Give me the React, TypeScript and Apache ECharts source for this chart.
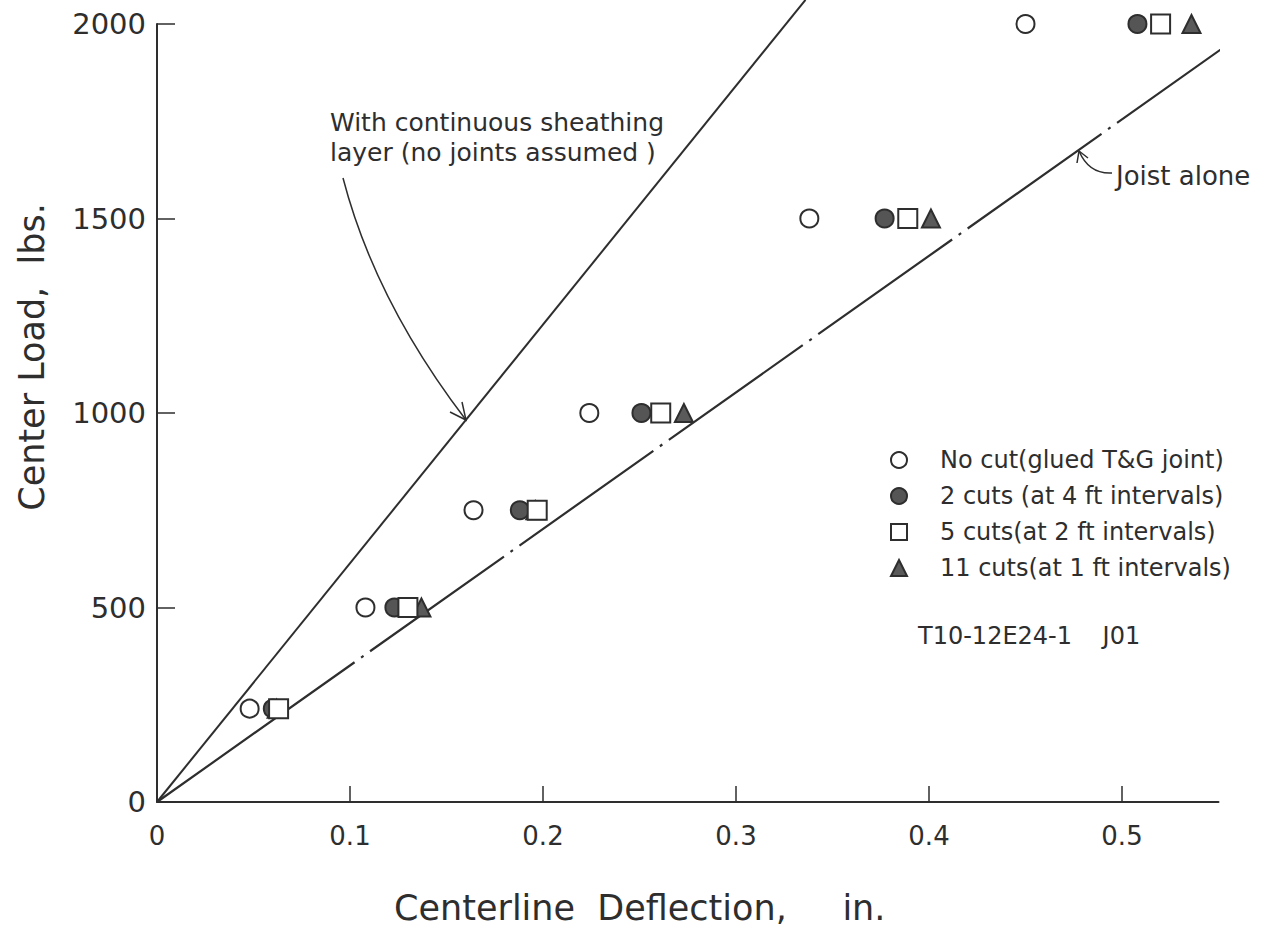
import React, { useEffect, useRef } from 'react';
import * as echarts from 'echarts';

// Center load (lbs) at which each set of deflections was read
const loads = [240, 500, 750, 1000, 1500, 2000];
// Centerline deflection (in.) for each test condition
const noCut = [0.048, 0.108, 0.164, 0.224, 0.338, 0.45];
const cuts2 = [0.06, 0.123, 0.188, 0.251, 0.377, 0.508];
const cuts5 = [0.063, 0.13, 0.197, 0.261, 0.389, 0.52];
const cuts11 = [0.062, 0.137, 0.196, 0.273, 0.401, 0.536];

// Theoretical lines
const sheathX = [0, 0.336];
const sheathY = [0, 2062];
const joistX = [0, 0.553];
const joistY = [0, 1941];

const xLabelTicks = [0, 0.1, 0.2, 0.3, 0.4, 0.5];
const xMarkTicks = [0.1, 0.2, 0.3, 0.4, 0.5];

const seriesNames = [
  'No cut(glued T&G joint)',
  '2 cuts (at 4 ft intervals)',
  '5 cuts(at 2 ft intervals)',
  '11 cuts(at 1 ft intervals)',
];
const legendIcons = ['circle', 'circle', 'rect', 'triangle'];

const INK = '#2e2e2e';
const FONT = 'DejaVu Sans';

export default function App() {
  const ref = useRef<HTMLDivElement>(null);

  useEffect(() => {
    if (!ref.current) return;
    const chart = echarts.init(ref.current, null, { renderer: 'svg' });
    const zip = (xs: number[], ys: number[]) => xs.map((x, i) => [x, ys[i]]);

    const scatterBase = (name: string, xs: number[], symbol: string, fill: string, z: number, size: number) => ({
      name,
      type: 'scatter',
      data: zip(xs, loads),
      symbol,
      symbolSize: size,
      z,
      itemStyle: { color: fill, borderColor: INK, borderWidth: 2, opacity: 1 },
      emphasis: { disabled: true },
    });

    chart.setOption({
      animation: false,
      backgroundColor: '#ffffff',
      grid: { left: 157, right: 53.5, top: 24, bottom: 140, containLabel: false },
      legend: {
        data: seriesNames.map((n, i) => ({ name: n, icon: legendIcons[i] })),
        orient: 'vertical',
        left: 885,
        top: 442,
        itemWidth: 16,
        itemHeight: 16,
        itemGap: 10,
        selectedMode: false,
        textStyle: { fontFamily: FONT, fontSize: 24, color: INK, lineHeight: 26, padding: [0, 0, 0, 28] },
      },
      xAxis: {
        type: 'value',
        min: 0,
        max: 0.55,
        interval: 0.1,
        name: 'Centerline  Deflection,     in.',
        nameLocation: 'middle',
        nameGap: 88,
        nameTextStyle: { fontFamily: FONT, fontSize: 35, color: INK, padding: [0, 96, 0, 0] },
        axisLine: { show: true, onZero: true, lineStyle: { color: INK, width: 2 } },
        axisTick: { show: true, inside: true, length: 16, customValues: xMarkTicks, lineStyle: { color: INK, width: 1.5 } },
        axisLabel: {
          customValues: xLabelTicks,
          fontFamily: FONT,
          fontSize: 26,
          color: INK,
          margin: 21,
          formatter: (v: number) => (v === 0 ? '0' : v.toFixed(1)),
        },
        splitLine: { show: false },
      },
      yAxis: {
        type: 'value',
        min: 0,
        max: 2000,
        interval: 500,
        name: 'Center Load,  lbs.',
        nameLocation: 'middle',
        nameGap: 108,
        nameTextStyle: { fontFamily: FONT, fontSize: 35, color: INK, padding: [0, 0, 0, 112] },
        axisLine: { show: true, lineStyle: { color: INK, width: 2 } },
        axisTick: { show: true, inside: true, length: 18, lineStyle: { color: INK, width: 1.5 } },
        axisLabel: {
          fontFamily: FONT,
          fontSize: 29,
          color: INK,
          margin: 11,
          formatter: (v: number) => String(v),
        },
        splitLine: { show: false },
      },
      series: [
        {
          name: 'With continuous sheathing layer',
          type: 'line',
          data: zip(sheathX, sheathY),
          symbol: 'none',
          clip: false,
          silent: true,
          z: 1,
          lineStyle: { color: INK, width: 2 },
        },
        {
          name: 'Joist alone',
          type: 'line',
          data: zip(joistX, joistY),
          symbol: 'none',
          clip: false,
          silent: true,
          z: 1,
          lineStyle: {
            color: INK,
            width: 2.2,
            type: [242, 8, 3, 8, 164, 8, 3, 8, 164, 8, 3, 8, 164, 8, 3, 8, 164, 8, 3, 8, 164, 8, 3, 8, 164, 8, 3, 8, 600],
          },
        },
        scatterBase(seriesNames[0], noCut, 'circle', '#ffffff', 3, 18),
        scatterBase(seriesNames[1], cuts2, 'circle', '#555555', 3, 18),
        scatterBase(seriesNames[3], cuts11, 'triangle', '#5a5a5a', 3, 18),
        scatterBase(seriesNames[2], cuts5, 'rect', '#ffffff', 4, 19),
      ],
      graphic: [
        {
          type: 'text',
          x: 330,
          y: 107,
          style: {
            text: 'With continuous sheathing\nlayer (no joints assumed )',
            fontFamily: FONT,
            fontSize: 25,
            lineHeight: 30,
            fill: INK,
            verticalAlign: 'top',
            align: 'left',
          },
        },
        {
          type: 'bezierCurve',
          shape: { x1: 343, y1: 178, cpx1: 375, cpy1: 301, x2: 466, y2: 420 },
          style: { stroke: INK, lineWidth: 1.5, fill: 'none' },
        },
        {
          type: 'polyline',
          shape: { points: [[462, 402], [466, 420], [450, 412]] },
          style: { stroke: INK, lineWidth: 1.5, fill: 'none' },
        },
        {
          type: 'text',
          x: 1116,
          y: 176,
          style: {
            text: 'Joist alone',
            fontFamily: FONT,
            fontSize: 26,
            fill: INK,
            verticalAlign: 'middle',
            align: 'left',
          },
        },
        {
          type: 'bezierCurve',
          shape: { x1: 1112, y1: 173, cpx1: 1095, cpy1: 174, cpx2: 1085, cpy2: 165, x2: 1079, y2: 151 },
          style: { stroke: INK, lineWidth: 1.5, fill: 'none' },
        },
        {
          type: 'polyline',
          shape: { points: [[1077, 163], [1079, 151], [1088, 158]] },
          style: { stroke: INK, lineWidth: 1.5, fill: 'none' },
        },
        {
          type: 'text',
          x: 918,
          y: 636,
          style: {
            text: 'T10-12E24-1    J01',
            fontFamily: FONT,
            fontSize: 24,
            fill: INK,
            verticalAlign: 'middle',
            align: 'left',
          },
        },
      ],
    });

    return () => chart.dispose();
  }, []);

  return (
    <div
      ref={ref}
      style={{ position: 'fixed', left: 0, top: 0, width: 1272, height: 942, background: '#fff' }}
    />
  );
}
